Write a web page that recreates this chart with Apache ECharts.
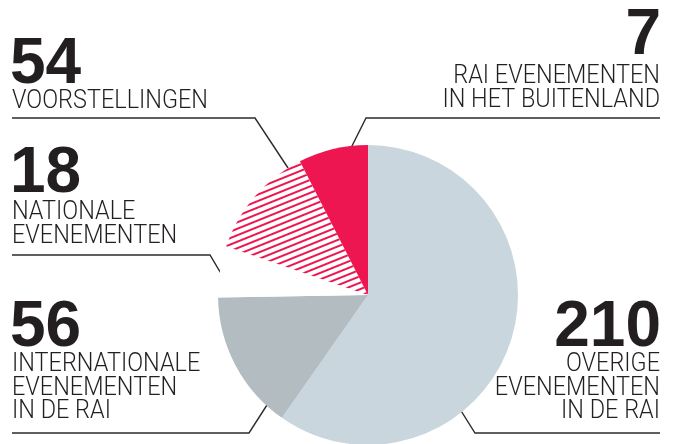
<!DOCTYPE html>
<html lang="nl">
<head>
    <meta charset="UTF-8">
    <title>RAI evenementen</title>
    <style>
        html, body { margin: 0; padding: 0; background: #fff; }
        #chart { width: 675px; height: 444px; }
    </style>
</head>
<body>
<div id="chart"></div>
<script src="https://cdn.jsdelivr.net/npm/echarts@6/dist/echarts.min.js"></script>
<script type="text/javascript">
    // categorieen en aantallen (zoals in de labels)
    var names = ['OVERIGE\nEVENEMENTEN\nIN DE RAI', 'INTERNATIONALE\nEVENEMENTEN\nIN DE RAI', 'NATIONALE\nEVENEMENTEN', 'VOORSTELLINGEN', 'RAI EVENEMENTEN\nIN HET BUITENLAND'];
    var counts = [210, 56, 18, 54, 7];
    // de taartpunten zijn niet evenredig getekend: hoeken afgelezen uit het plaatje (graden)
    var sliceAngles = [215, 54, 20, 44, 27];
    var colors = ['#c9d6dd', '#b3bcc1', '#ffffff', '#ffffff', '#ee1651'];

    // plaats van de labels en de lijntjes
    var labelPos = [
        {x: 661, y: 296, align: 'right', line: [[660, 433], [475, 433], [448, 390]]},
        {x: 10, y: 296, align: 'left', line: [[12, 433], [249, 433], [276, 391]]},
        {x: 10, y: 142, align: 'left', line: [[12, 255], [210, 255], [229, 287]]},
        {x: 10, y: 33, align: 'left', line: [[12, 118], [255, 118], [290, 171]]},
        {x: 661, y: 4, align: 'right', line: [[660, 118], [366, 118], [344, 162]]}
    ];
    var subOffset = [57, 57, 59, 57, 61];

    var chart = echarts.init(document.getElementById('chart'), null, {renderer: 'canvas'});

    var pieData = [];
    for (var i = 0; i < sliceAngles.length; i++) {
        var item = {
            name: names[i],
            value: sliceAngles[i],
            itemStyle: {color: colors[i]}
        };
        if (i == 3) {
            item.itemStyle.decal = {
                symbol: 'rect',
                symbolSize: 1,
                color: '#ee1651',
                dashArrayX: [1, 0],
                dashArrayY: [2, 3.4],
                rotation: -22 * Math.PI / 180
            };
        }
        pieData.push(item);
    }

    var graphics = [];
    for (var j = 0; j < counts.length; j++) {
        var p = labelPos[j];
        graphics.push({
            type: 'text',
            silent: true,
            style: {
                text: String(counts[j]),
                x: p.x, y: p.y,
                align: p.align, verticalAlign: 'top',
                fontFamily: 'Liberation Sans, Arial, sans-serif',
                fontWeight: 'bold',
                fontSize: 64,
                lineHeight: 64,
                fill: '#231f20'
            }
        });
        // smallere letter zoals in het origineel
        graphics.push({
            type: 'text',
            silent: true,
            x: p.x + (p.align == 'left' ? 2 : -1),
            y: p.y + subOffset[j],
            scaleX: 0.92,
            style: {
                text: names[j],
                x: 0, y: 0,
                align: p.align, verticalAlign: 'top',
                fontFamily: 'Roboto, sans-serif',
                fontWeight: 300,
                fontSize: 25.5,
                lineHeight: 23.5,
                fill: '#231f20'
            }
        });
        graphics.push({
            type: 'polyline',
            silent: true,
            shape: {points: p.line},
            style: {stroke: '#2b2b2b', lineWidth: 1.4, fill: null}
        });
    }

    var option = {
        backgroundColor: '#ffffff',
        animation: false,
        series: [
            {
                type: 'pie',
                center: [368, 295],
                radius: [0, 150],
                startAngle: 90,
                clockwise: true,
                silent: true,
                label: {show: false},
                labelLine: {show: false},
                itemStyle: {borderWidth: 0},
                data: pieData
            }
        ],
        graphic: graphics
    };
    chart.setOption(option);
</script>
</body>
</html>
